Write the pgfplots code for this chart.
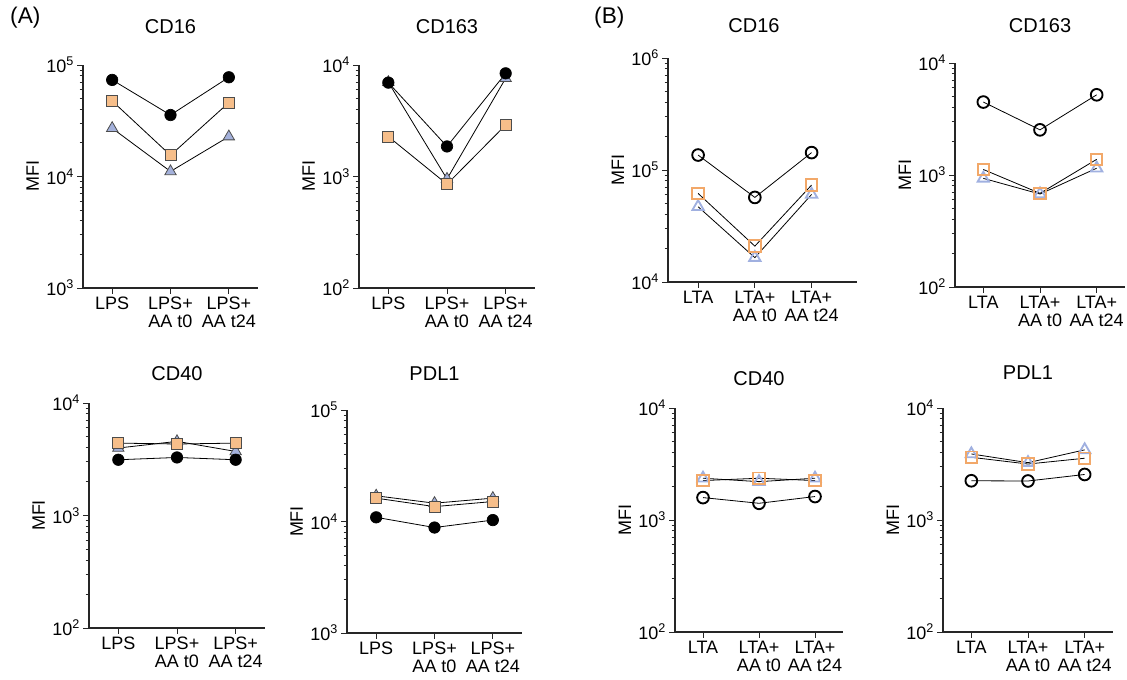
\documentclass[border=0pt]{standalone}
\usepackage{fontspec}
\setmainfont{Liberation Sans}
\usepackage{pgfplots}
\pgfplotsset{compat=1.18}

\definecolor{orfill}{HTML}{F6BE8A}
\definecolor{blfill}{HTML}{A4B1DB}
\definecolor{oredge}{HTML}{F2A869}
\definecolor{bledge}{HTML}{A0B0E0}

\newcommand\tickfont{\fontsize{13.5}{13.5}\selectfont}
\pgfplotsset{
  mypanel/.style={
    anchor=south west, scale only axis,
    xmin=-0.5, xmax=2.5, xtick={0,1,2},
    axis x line=bottom, axis y line=left,
    axis line style={-, line width=0.8pt, black!85},
    every tick/.style={line width=0.7pt, black!85},
    tick align=outside,
    major tick length=4.5pt, minor tick length=2.5pt,
    xticklabel style={align=center, font=\tickfont, inner sep=2pt},
    yticklabel style={font=\tickfont, inner sep=2pt},
    title style={font=\fontsize{15}{16}\selectfont},
    ylabel style={font=\fontsize{13.5}{14}\selectfont},
    ylabel=MFI,
    clip=false,
  },
  lps/.style={xticklabels={LPS,{LPS+\\AA t0},{LPS+\\AA t24}}},
  lta/.style={xticklabels={LTA,{LTA+\\AA t0},{LTA+\\AA t24}}},
  dtwo/.style={ymin=100, ymax=10000, ytick={100,1000,10000},
    yticklabels={10\textsuperscript{2},10\textsuperscript{3},10\textsuperscript{4}},
    minor ytick={200,300,400,500,600,700,800,900,2000,3000,4000,5000,6000,7000,8000,9000}},
  dthree/.style={ymin=1000, ymax=100000, ytick={1000,10000,100000},
    yticklabels={10\textsuperscript{3},10\textsuperscript{4},10\textsuperscript{5}},
    minor ytick={2000,3000,4000,5000,6000,7000,8000,9000,20000,30000,40000,50000,60000,70000,80000,90000}},
  dfour/.style={ymin=10000, ymax=1000000, ytick={10000,100000,1000000},
    yticklabels={10\textsuperscript{4},10\textsuperscript{5},10\textsuperscript{6}},
    minor ytick={20000,30000,40000,50000,60000,70000,80000,90000,200000,300000,400000,500000,600000,700000,800000,900000}},
  conn/.style={black, line width=0.6pt},
  fcirc/.style={conn, mark=*, mark size=4.3pt, mark options={fill=black, draw=black, line width=0.5pt}},
  fsq/.style={conn, mark=square*, mark size=4.1pt, mark options={fill=orfill, draw=black!70, line width=0.6pt}},
  ftri/.style={conn, mark=triangle*, mark size=4.9pt, mark options={fill=blfill, draw=black!70, line width=0.6pt}},
  ocirc/.style={conn, mark=o, mark size=4.4pt, mark options={draw=black, line width=1.4pt}},
  osq/.style={conn, mark=square, mark size=4.3pt, mark options={draw=oredge, line width=1.4pt}},
  otri/.style={conn, mark=triangle, mark size=4.9pt, mark options={draw=bledge, line width=1.4pt}},
}

\begin{document}
\begin{tikzpicture}
\useasboundingbox (0,0) rectangle (845.25pt,-510pt);
\node[font=\fontsize{17}{18}\selectfont] at (19pt,-13.5pt) {(A)};
\node[font=\fontsize{17}{18}\selectfont] at (457pt,-13.5pt) {(B)};

% (A) CD16
\begin{semilogyaxis}[mypanel, lps, dthree, at={(62.25pt,-216pt)}, width=131.25pt, height=167.25pt,
  title=CD16, title style={yshift=14pt}]
\addplot[ftri] coordinates {(0,27100) (1,11100) (2,22800)};
\addplot[fsq] coordinates {(0,47600) (1,15500) (2,46000)};
\addplot[fcirc] coordinates {(0,73500) (1,35600) (2,77600)};
\end{semilogyaxis}

% (A) CD163
\begin{semilogyaxis}[mypanel, lps, dtwo, at={(269.25pt,-216pt)}, width=132pt, height=167.25pt,
  title=CD163, title style={yshift=14pt}]
\addplot[ftri] coordinates {(0,7000) (1,950) (2,7600)};
\addplot[fsq] coordinates {(0,2280) (1,853) (2,2900)};
\addplot[fcirc] coordinates {(0,6950) (1,1860) (2,8420)};
\end{semilogyaxis}

% (B) CD16
\begin{semilogyaxis}[mypanel, lta, dfour, at={(501pt,-211.5pt)}, width=141.75pt, height=168pt,
  xmin=-0.53, xmax=2.8,
  title=CD16, title style={at={(axis description cs:0.455,1)}, yshift=9.5pt}]
\addplot[otri] coordinates {(0,47000) (1,16500) (2,60500)};
\addplot[osq] coordinates {(0,61800) (1,20900) (2,73400)};
\addplot[ocirc] coordinates {(0,136000) (1,56900) (2,143000)};
\end{semilogyaxis}

% (B) CD163
\begin{semilogyaxis}[mypanel, lta, dtwo, at={(716.25pt,-215.25pt)}, width=127.5pt, height=168pt,
  title=CD163, title style={yshift=13pt}]
\addplot[otri] coordinates {(0,933) (1,676) (2,1150)};
\addplot[osq] coordinates {(0,1120) (1,686) (2,1380)};
\addplot[ocirc] coordinates {(0,4480) (1,2530) (2,5200)};
\end{semilogyaxis}

% (A) CD40
\begin{semilogyaxis}[mypanel, lps, dtwo, at={(66.75pt,-471pt)}, width=132pt, height=168.75pt,
  title=CD40, title style={yshift=7pt}]
\addplot[ftri] coordinates {(0,3980) (1,4560) (2,3710)};
\addplot[fsq] coordinates {(0,4400) (1,4320) (2,4400)};
\addplot[fcirc] coordinates {(0,3130) (1,3280) (2,3130)};
\end{semilogyaxis}

% (A) PDL1
\begin{semilogyaxis}[mypanel, lps, dthree, at={(260.25pt,-474.75pt)}, width=131.25pt, height=167.25pt,
  title=PDL1, title style={yshift=12.5pt}]
\addplot[ftri] coordinates {(0,17000) (1,14600) (2,16200)};
\addplot[fsq] coordinates {(0,16200) (1,13600) (2,15100)};
\addplot[fcirc] coordinates {(0,10900) (1,8830) (2,10300)};
\end{semilogyaxis}

% (B) CD40
\begin{semilogyaxis}[mypanel, lta, dtwo, at={(506.25pt,-474pt)}, width=126pt, height=168pt,
  title=CD40, title style={yshift=7.5pt}]
\addplot[otri] coordinates {(0,2360) (1,2200) (2,2360)};
\addplot[osq] coordinates {(0,2250) (1,2360) (2,2250)};
\addplot[ocirc] coordinates {(0,1585) (1,1410) (2,1620)};
\end{semilogyaxis}

% (B) PDL1
\begin{semilogyaxis}[mypanel, lta, dtwo, at={(707.25pt,-474pt)}, width=127.5pt, height=168pt,
  title=PDL1, title style={yshift=12pt}]
\addplot[otri] coordinates {(0,3890) (1,3250) (2,4230)};
\addplot[osq] coordinates {(0,3630) (1,3160) (2,3560)};
\addplot[ocirc] coordinates {(0,2240) (1,2230) (2,2550)};
\end{semilogyaxis}
\end{tikzpicture}
\end{document}
